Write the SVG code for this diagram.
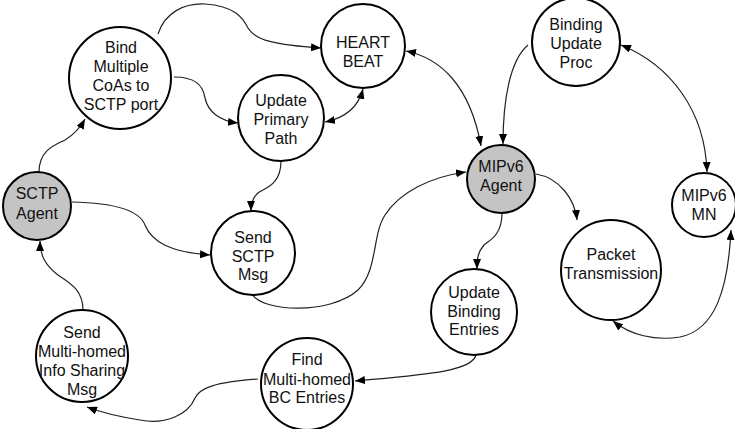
<svg xmlns="http://www.w3.org/2000/svg" width="735" height="429" viewBox="0 0 735 429">
<defs>
<marker id="ah" viewBox="0 0 10 8" refX="10" refY="4" markerWidth="10" markerHeight="8" markerUnits="userSpaceOnUse" orient="auto-start-reverse">
<path d="M0,0 L10,4 L0,8 z" fill="#000"/>
</marker>
<style>
.n{fill:#fff;stroke:#000;stroke-width:2}
.g{fill:#c4c4c4;stroke:#000;stroke-width:2}
.t{font-family:"Liberation Sans",Arial,sans-serif;font-size:16px;fill:#111;text-anchor:middle}
.e{fill:none;stroke:#222;stroke-width:1.2;marker-end:url(#ah)}
.b{marker-start:url(#ah)}
</style>
</defs>
<rect width="735" height="429" fill="#fff"/>
<g id="connectors">
<path class="e" d="M39,172 C39,150 55,145 65,140 C75,134 80,128 85,119"/>
<path class="e" d="M158,34 C165,12 185,3 205,4 C235,6 243,18 248,28 C255,40 275,45 321,48"/>
<path class="e" d="M174,77 C195,77 203,85 205,98 C208,112 220,121 238,123"/>
<path class="e b" d="M325,122 C345,118 358,108 363,89"/>
<path class="e" d="M281,161 C281,185 265,188 258,193 C252,198 251,205 251,211"/>
<path class="e" d="M72,202 C120,203 140,212 145,225 C152,242 170,252 210,255"/>
<path class="e" d="M252,294 C262,312 330,315 358,290 C378,270 372,235 385,215 C400,192 430,177 466,172"/>
<path class="e b" d="M406,51 C440,58 470,85 481,146"/>
<path class="e" d="M528,45 C510,60 503,100 503,144"/>
<path class="e b" d="M621,45 C670,65 705,110 707,172"/>
<path class="e" d="M536,174 C560,178 575,200 577,220"/>
<path class="e" d="M502,213 C502,235 490,240 484,245 C478,252 477,258 477,269"/>
<path class="e" d="M476,355 C472,372 420,375 355,381"/>
<path class="e" d="M258,379 C215,382 200,388 195,398 C188,415 165,425 140,420 C115,416 100,412 87,407"/>
<path class="e" d="M83,310 C83,290 70,283 58,275 C45,265 40,255 40,241"/>
<path class="e b" d="M731,230 C728,290 715,330 680,337 C655,341 630,335 613,321"/>
</g>
<g id="sctp-agent"><circle class="g" cx="37" cy="206" r="34"/><text class="t" x="37" y="199">SCTP<tspan x="37" y="219">Agent</tspan></text></g>
<g id="bind"><circle class="n" cx="120" cy="78" r="51"/><text class="t" x="121" y="53">Bind<tspan x="121" y="72">Multiple</tspan><tspan x="121" y="91">CoAs to</tspan><tspan x="121" y="110">SCTP port</tspan></text></g>
<g id="heartbeat"><circle class="n" cx="363" cy="46" r="42"/><text class="t" x="363" y="48">HEART<tspan x="363" y="67">BEAT</tspan></text></g>
<g id="update-primary"><circle class="n" cx="281" cy="118" r="43"/><text class="t" x="281" y="106">Update<tspan x="281" y="125">Primary</tspan><tspan x="281" y="144">Path</tspan></text></g>
<g id="send-sctp"><circle class="n" cx="253" cy="253" r="42"/><text class="t" x="253" y="243">Send<tspan x="253" y="262">SCTP</tspan><tspan x="253" y="280">Msg</tspan></text></g>
<g id="mipv6-agent"><circle class="g" cx="501" cy="179" r="34"/><text class="t" x="501" y="172">MIPv6<tspan x="501" y="191">Agent</tspan></text></g>
<g id="binding-update"><circle class="n" cx="576" cy="42" r="44"/><text class="t" x="576" y="30">Binding<tspan x="576" y="49">Update</tspan><tspan x="576" y="68">Proc</tspan></text></g>
<g id="mipv6-mn"><circle class="n" cx="704" cy="205" r="32"/><text class="t" x="704" y="201">MIPv6<tspan x="704" y="220">MN</tspan></text></g>
<g id="packet"><circle class="n" cx="611" cy="270" r="50"/><text class="t" x="611" y="260">Packet<tspan x="611" y="279">Transmission</tspan></text></g>
<g id="update-binding"><circle class="n" cx="474" cy="312" r="43"/><text class="t" x="474" y="298">Update<tspan x="474" y="317">Binding</tspan><tspan x="474" y="335">Entries</tspan></text></g>
<g id="find-bc"><circle class="n" cx="307" cy="384" r="46"/><text class="t" x="307" y="365">Find<tspan x="307" y="385">Multi-homed</tspan><tspan x="307" y="403">BC Entries</tspan></text></g>
<g id="send-multihomed"><circle class="n" cx="82" cy="356" r="46"/><text class="t" x="82" y="338">Send<tspan x="82" y="357">Multi-homed</tspan><tspan x="82" y="376">Info Sharing</tspan><tspan x="82" y="395">Msg</tspan></text></g>
</svg>
